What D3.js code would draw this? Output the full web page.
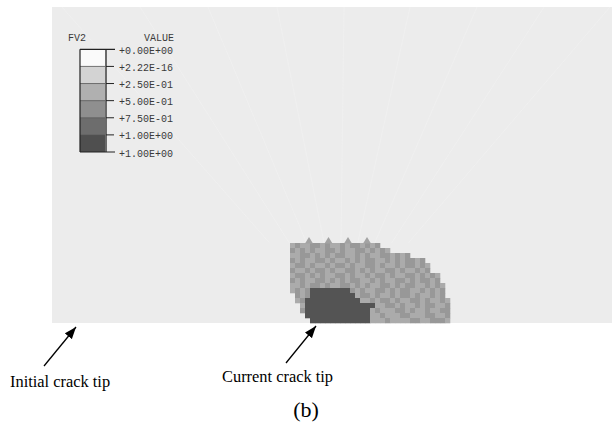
<!DOCTYPE html>
<html><head><meta charset="utf-8">
<script src="https://cdn.jsdelivr.net/npm/d3@7"></script>
<style>html,body{margin:0;padding:0;background:#fff;}svg{display:block;}</style>
</head><body>
<script>
// ---------- data ----------
const legendTitle = "FV2";
const legendHeader = "VALUE";
const legendTickLabels = ["+0.00E+00","+2.22E-16","+2.50E-01","+5.00E-01","+7.50E-01","+1.00E+00","+1.00E+00"];
const legendBandColors = ["#fafafa","#d3d3d3","#b0b0b0","#8f8f8f","#6d6d6d","#4f4f4f"];

// FV2 field on the damaged zone: a = ~0.25 band, b = ~0.5 band, d = 1.0 (crack), . = 0
const cellColumnOffset = 47.6;   // model units (first column of damaged zone)
const cellTopRow = 16;           // model units (top of damaged zone)
const fieldRows = [
  "abaabbabaababbabab",
  "bababaabbabaabbababa",
  "aabbabababbaababaabbabab",
  "babaabbabaabababbaabababbab",
  "abbabaababbabaabbabaababbaba",
  "baababbabaabbababaabbabaabab",
  "abbababaabbabaababbabaabbababa",
  "babaabbabababbaababaabbababbab",
  "aababbabaabbababaabbababbaababa",
  "ababddddddddbabaabbababbaababab",
  ".babdddddddddabbabaababbabaabab",
  ".abdddddddddddaababbabaabbabaaba",
  "..addddddddddddddaabbabaababbaaba",
  "..bdddddddddddddabaaabbabaabaabb",
  "...dddddddddddddaabaaabbaaabbaab",
  "....ddddddddddddaaabaaaabbaabbba"
];
const fieldColors = {a:"#ababab", b:"#989898", d:"#545454"};
const sawPeaks = [3.8, 7.7, 11.6, 15.4];   // model x offsets of element tips on top edge

const meshTopX = [2, 17.6, 31.2, 45, 58.4, 71.6, 85, 98.4, 111.6];
const meshFocusX = 57.6;

const annotations = [
  {text:"Initial crack tip", tx:10, ty:387, from:[44,366], to:[76,327]},
  {text:"Current crack tip", tx:222, ty:382, from:[286,363], to:[316,326]}
];
const caption = "(b)";

// ---------- drawing ----------
const W = 612, H = 425;
const svg = d3.select("body").append("svg").attr("width", W).attr("height", H);

const x = d3.scaleLinear().domain([0, 112]).range([52, 612]);
const y = d3.scaleLinear().domain([0, 63.2]).range([323, 7]);

// panel
svg.append("rect").attr("x", x(0)).attr("y", y(63.2))
  .attr("width", x(112) - x(0)).attr("height", y(0) - y(63.2)).attr("fill", "#ececec");

// faint mesh lines
const mesh = svg.append("g").attr("stroke", "#f1f1f1").attr("stroke-width", 0.6).attr("fill", "none");
meshTopX.forEach(tx => {
  const t = (63.2 - 16) / 63.2;
  const ex = tx + (meshFocusX - tx) * t;
  mesh.append("line").attr("x1", x(tx)).attr("y1", y(63.2)).attr("x2", x(ex)).attr("y2", y(16));
});

// damaged zone cells
const cells = [];
fieldRows.forEach((row, r) => {
  const s = row.padEnd(32, ".").slice(0, 32);
  for (let c = 0; c < 32; c++) {
    const k = s[c];
    if (k !== ".") cells.push({c, r, k});
  }
});
const cw = x(1) - x(0), ch = y(0) - y(1);
svg.append("g").selectAll("rect").data(cells).join("rect")
  .attr("x", d => x(cellColumnOffset + d.c))
  .attr("y", d => y(cellTopRow - d.r))
  .attr("width", cw + 0.3).attr("height", ch + 0.3)
  .attr("fill", d => fieldColors[d.k]);

// small element tips on top edge
svg.append("g").selectAll("path").data(sawPeaks).join("path")
  .attr("d", d => {
    const cx = x(cellColumnOffset + d);
    return `M${cx - 4},${y(cellTopRow) + 0.5} L${cx},${y(cellTopRow + 1.2)} L${cx + 4},${y(cellTopRow) + 0.5} Z`;
  })
  .attr("fill", "#a3a3a3");

// legend
const lg = svg.append("g");
const ly = d3.scaleLinear().domain([0, 6]).range([49.3, 152]);
const barX0 = 80, barX1 = 106;
const monoFont = "Liberation Mono, Courier New, monospace";
lg.append("text").attr("x", 68).attr("y", 41).text(legendTitle)
  .attr("font-family", monoFont).attr("font-size", 10).attr("fill", "#3a3a3a");
lg.append("text").attr("x", 174).attr("y", 41).attr("text-anchor", "end").text(legendHeader)
  .attr("font-family", monoFont).attr("font-size", 10).attr("fill", "#3a3a3a");
lg.selectAll("rect.band").data(legendBandColors).join("rect").attr("class", "band")
  .attr("x", barX0).attr("y", (d, i) => ly(i)).attr("width", barX1 - barX0)
  .attr("height", (d, i) => ly(i + 1) - ly(i)).attr("fill", d => d);
lg.selectAll("line.sep").data(d3.range(1, 6)).join("line").attr("class", "sep")
  .attr("x1", barX0).attr("x2", barX1).attr("y1", d => ly(d)).attr("y2", d => ly(d))
  .attr("stroke", "#555").attr("stroke-width", 0.8);
lg.append("line").attr("x1", barX0).attr("x2", barX0).attr("y1", ly(0)).attr("y2", ly(6))
  .attr("stroke", "#222").attr("stroke-width", 1.2);
lg.append("line").attr("x1", barX1).attr("x2", barX1).attr("y1", ly(0)).attr("y2", ly(6))
  .attr("stroke", "#6a6a6a").attr("stroke-width", 2);
[0, 6].forEach(i => lg.append("line").attr("x1", barX0).attr("x2", 115).attr("y1", ly(i)).attr("y2", ly(i))
  .attr("stroke", "#222").attr("stroke-width", 1.2));
lg.selectAll("line.tick").data(d3.range(1, 6)).join("line").attr("class", "tick")
  .attr("x1", barX1).attr("x2", 114).attr("y1", d => ly(d)).attr("y2", d => ly(d))
  .attr("stroke", "#222").attr("stroke-width", 1);
lg.selectAll("text.lab").data(legendTickLabels).join("text").attr("class", "lab")
  .attr("x", 119).attr("y", (d, i) => ly(i) + 4.5).text(d => d)
  .attr("font-family", monoFont).attr("font-size", 10).attr("fill", "#3a3a3a");

// annotations
const defs = svg.append("defs");
defs.append("marker").attr("id", "ah").attr("viewBox", "0 0 12 10").attr("refX", 12).attr("refY", 5)
  .attr("markerWidth", 12).attr("markerHeight", 10).attr("markerUnits", "userSpaceOnUse").attr("orient", "auto")
  .append("path").attr("d", "M0,0.5 L12,5 L0,9.5 Z").attr("fill", "#000");
annotations.forEach(a => {
  svg.append("line").attr("x1", a.from[0]).attr("y1", a.from[1]).attr("x2", a.to[0]).attr("y2", a.to[1])
    .attr("stroke", "#000").attr("stroke-width", 1.3).attr("marker-end", "url(#ah)");
  svg.append("text").attr("x", a.tx).attr("y", a.ty).text(a.text)
    .attr("font-family", "Liberation Serif, Times New Roman, serif").attr("font-size", 16.4).attr("fill", "#000");
});
svg.append("text").attr("x", 306).attr("y", 417).attr("text-anchor", "middle").text(caption)
  .attr("font-family", "Liberation Serif, Times New Roman, serif").attr("font-size", 22).attr("fill", "#000");
</script>
</body></html>
